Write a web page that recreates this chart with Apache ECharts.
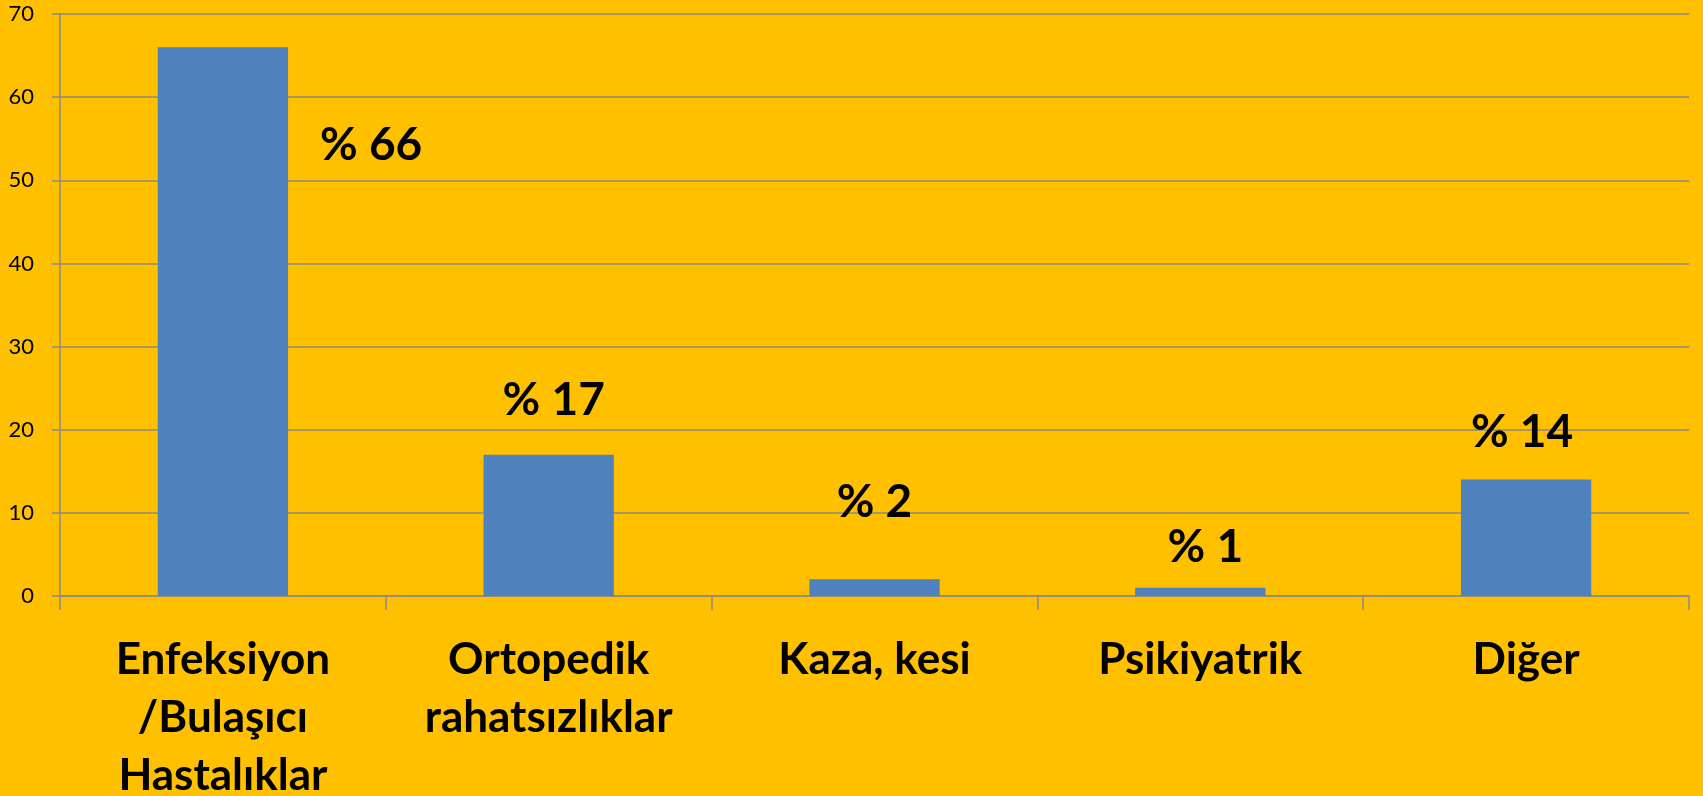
<!DOCTYPE html>
<html>
<head>
<meta charset="utf-8">
<script src="https://cdn.jsdelivr.net/npm/echarts@6/dist/echarts.min.js"></script>
<style>
	html, body { margin: 0; padding: 0; background: #FFC000; }
	#container { width: 1703px; height: 796px; }
</style>
</head>
<body>
<div id="container"></div>
<script>
var categories = ['Enfeksiyon\n/Bulaşıcı\nHastalıklar', 'Ortopedik\nrahatsızlıklar', 'Kaza, kesi', 'Psikiyatrik', 'Diğer'];
var values = [66, 17, 2, 1, 14];
var labelTexts = ['% 66', '% 17', '% 2', '% 1', '% 14'];
var yTicks = [0, 10, 20, 30, 40, 50, 60, 70];

var dom = document.getElementById('container');
var myChart = echarts.init(dom);

// label placement, hand tuned like in the original slide
var labelPlace = [
	{ position: ['100%', 0], align: 'left', verticalAlign: 'middle', offset: [32, 98] },
	{ position: 'top', distance: 30, offset: [5, 0] },
	{ position: 'top', distance: 53, offset: [0, 0] },
	{ position: 'top', distance: 17, offset: [5, 0] },
	{ position: 'top', distance: 23, offset: [-4, 0] }
];

var seriesData = values.map(function(v, i) {
	var lbl = Object.assign({
		show: true,
		formatter: labelTexts[i]
	}, labelPlace[i]);
	return { value: v, label: lbl };
});

var option = {
	backgroundColor: '#FFC000',
	animation: false,
	grid: {
		left: 60,
		right: 14,
		top: 14,
		bottom: 200,
		containLabel: false,
		outerBoundsMode: 'none'
	},
	xAxis: {
		type: 'category',
		data: categories,
		axisLine: { show: true, lineStyle: { color: '#8a8a8a', width: 1.5 } },
		axisTick: { show: true, length: 14, lineStyle: { color: '#8a8a8a', width: 1.5 } },
		axisLabel: {
			interval: 0,
			margin: 35,
			color: '#000',
			fontFamily: 'Lato',
			fontWeight: 'bold',
			fontSize: 44,
			lineHeight: 58
		}
	},
	yAxis: {
		type: 'value',
		min: yTicks[0],
		max: yTicks[yTicks.length - 1],
		interval: 10,
		axisLine: { show: true, lineStyle: { color: '#8a8a8a', width: 1.5 } },
		axisTick: { show: true, length: 8, lineStyle: { color: '#8a8a8a', width: 1.5 } },
		splitLine: { show: true, lineStyle: { color: '#8a8a8a', width: 1.5 } },
		axisLabel: {
			margin: 26,
			color: '#000',
			fontFamily: 'Lato',
			fontSize: 22
		}
	},
	series: [{
		type: 'bar',
		barWidth: '40%',
		data: seriesData,
		itemStyle: { color: '#4F81BD' },
		label: {
			color: '#000',
			fontFamily: 'Lato',
			fontWeight: 'bold',
			fontSize: 46,
			lineHeight: 48
		}
	}]
};
myChart.setOption(option, true);
</script>
</body>
</html>
